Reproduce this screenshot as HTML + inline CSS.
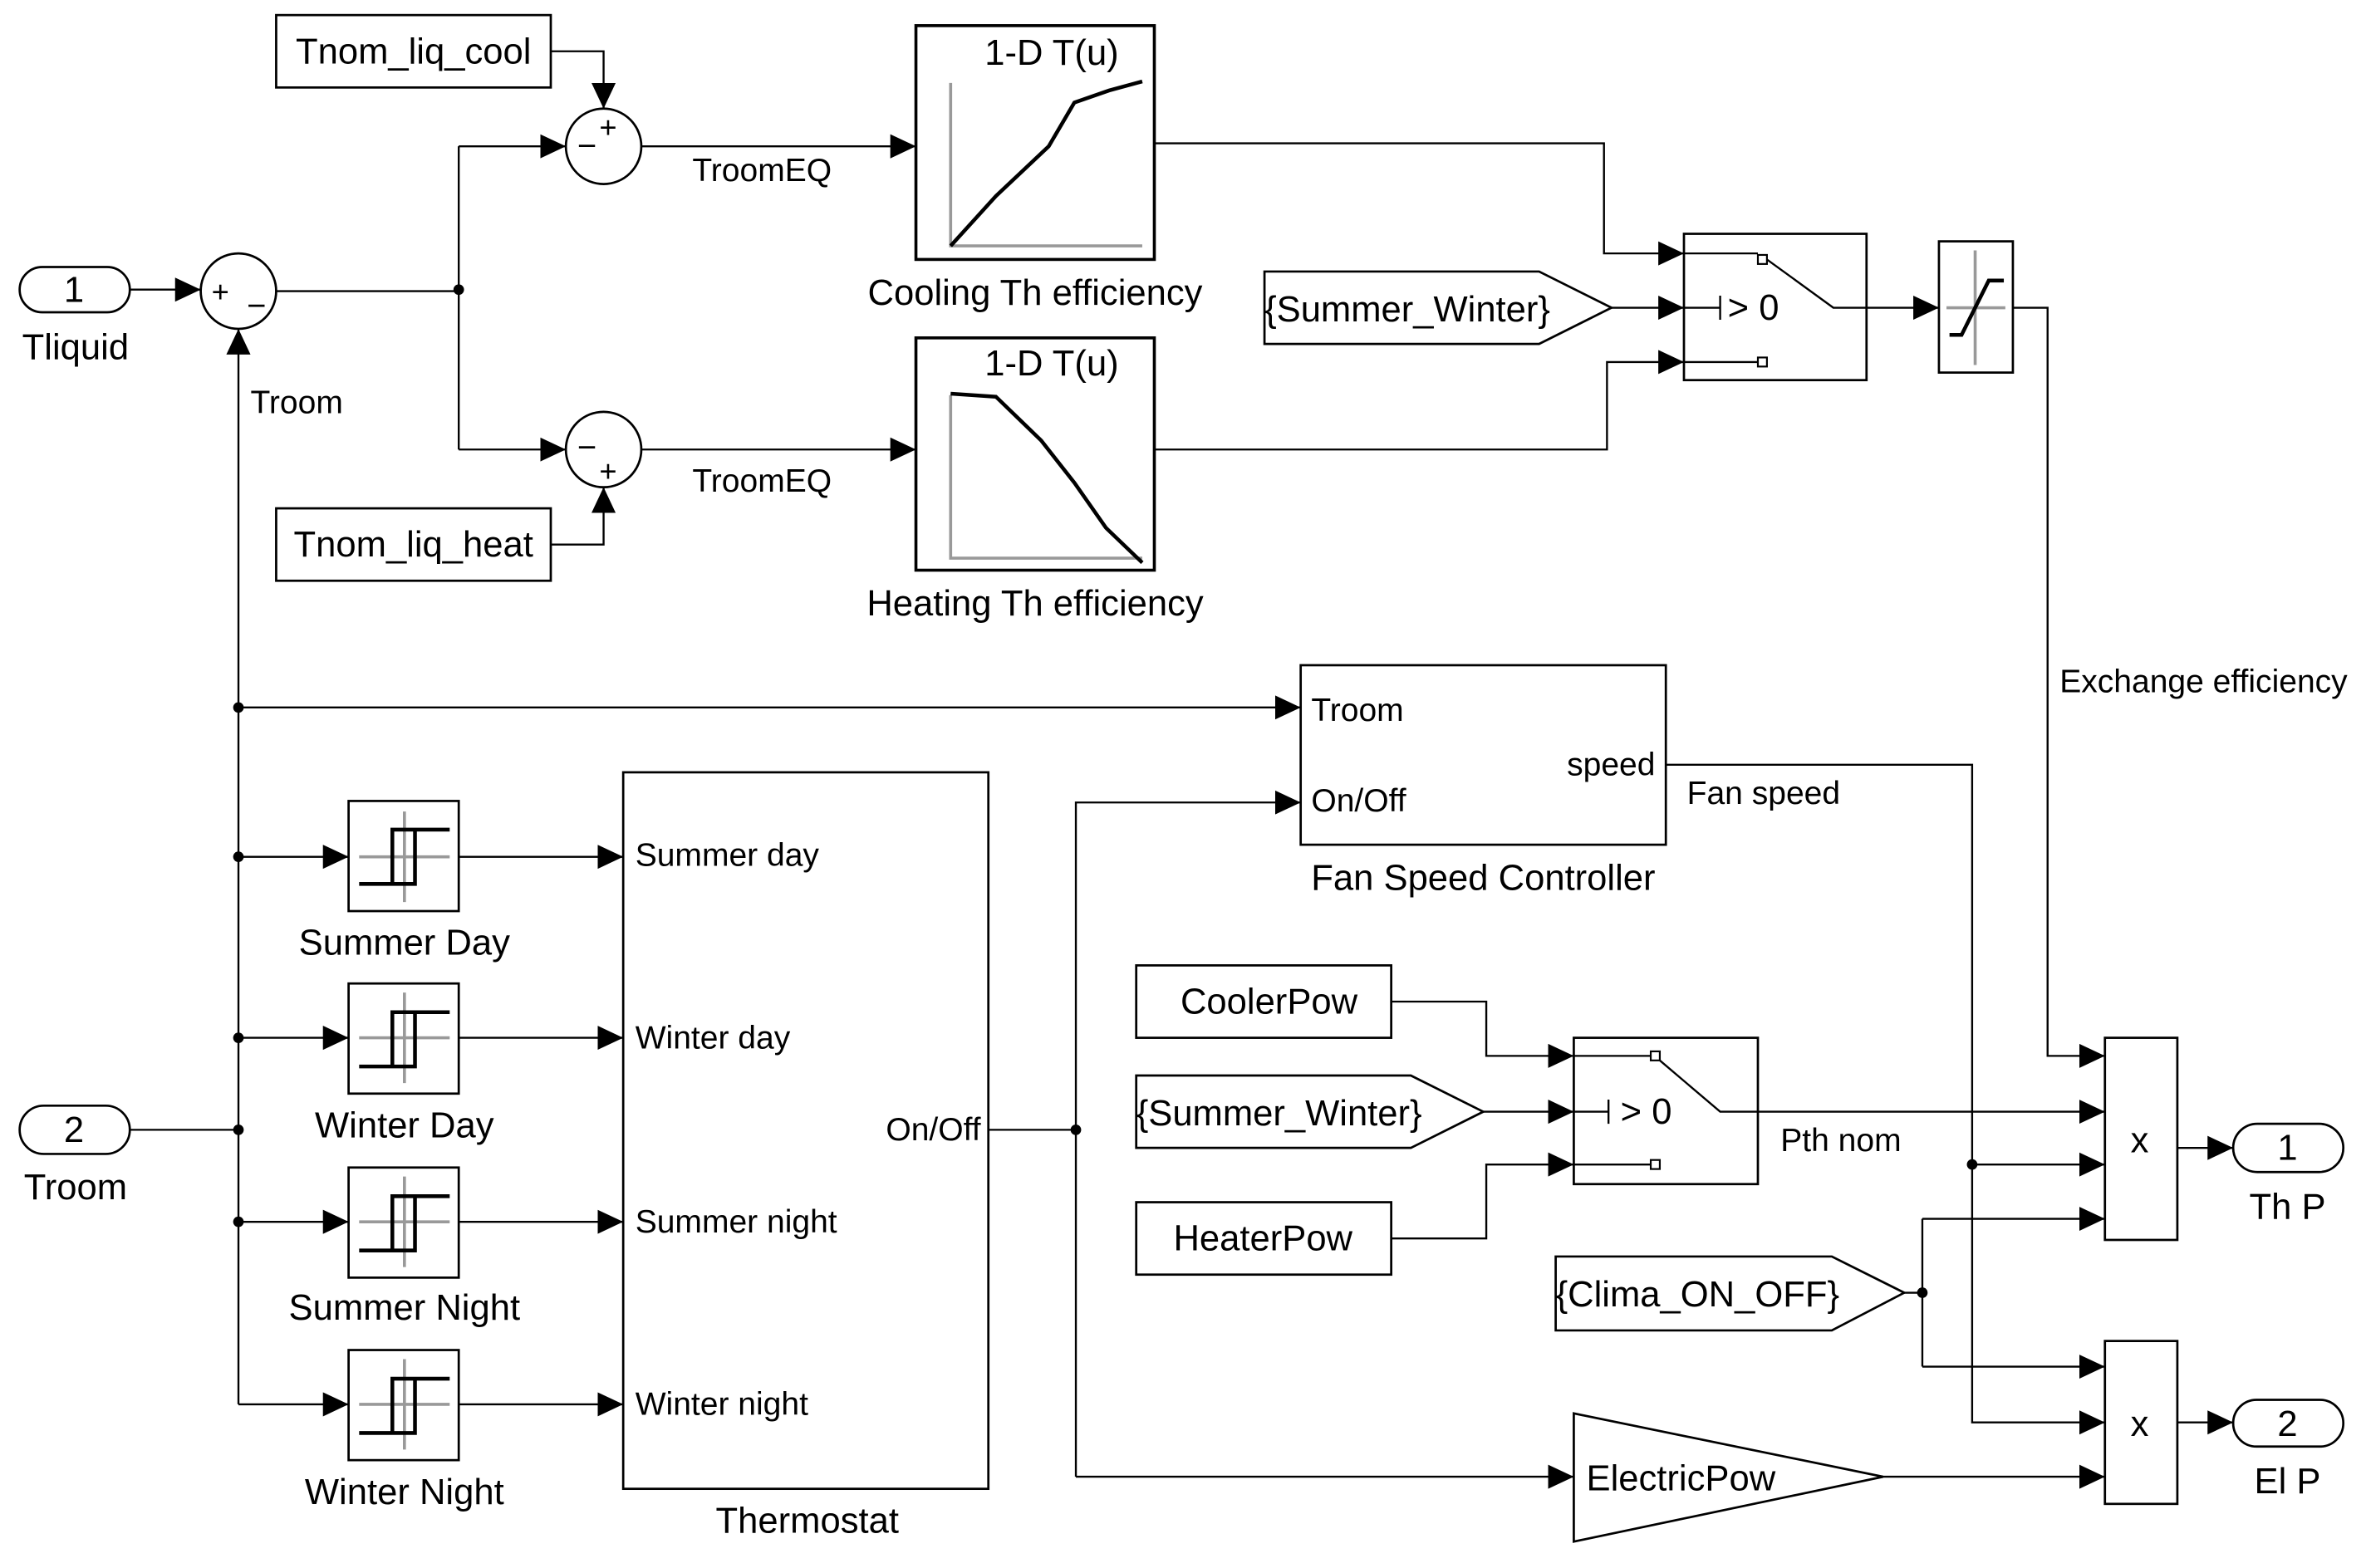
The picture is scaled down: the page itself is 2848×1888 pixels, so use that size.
<!DOCTYPE html>
<html><head><meta charset="utf-8"><style>
html,body{margin:0;padding:0;background:#fff}
svg{display:block}
text{font-family:"Liberation Sans",Arial,sans-serif;font-size:24px;fill:#000}
text.s{font-size:21.5px}
text.p{font-size:20px}
text.m{font-size:22px}
</style></head><body>
<svg width="2848" height="1888" viewBox="0 0 1568 1039.5" xmlns="http://www.w3.org/2000/svg">
<defs>
<marker id="a" markerWidth="18" markerHeight="18" refX="17" refY="8" orient="auto" markerUnits="userSpaceOnUse">
<path d="M0,0 L17,8 L0,16 Z" fill="#000"/></marker>
</defs>
<g fill="none" stroke="#000" stroke-width="1.5">
<rect x="183" y="10" width="182" height="48"/>
<rect x="183" y="337" width="182" height="48"/>
<circle cx="400" cy="97" r="25"/>
<circle cx="400" cy="298" r="25"/>
<circle cx="158" cy="193" r="25"/>
<rect x="607" y="17" width="158" height="155" stroke-width="2"/>
<rect x="607" y="224" width="158" height="154" stroke-width="2"/>
<rect x="13" y="177" width="73" height="30" rx="15"/>
<rect x="13" y="733" width="73" height="32" rx="16"/>
<rect x="1116" y="155" width="121" height="97"/>
<rect x="1285" y="160" width="49" height="87"/>
<path d="M838,180 L1020,180 L1068,204 L1020,228 L838,228 Z"/>
<path d="M753,713 L935,713 L983,737 L935,761 L753,761 Z"/>
<path d="M1031,833 L1214,833 L1262,857 L1214,882 L1031,882 Z"/>
<rect x="231" y="531" width="73" height="73"/>
<rect x="231" y="652" width="73" height="73"/>
<rect x="231" y="774" width="73" height="73"/>
<rect x="231" y="895" width="73" height="73"/>
<rect x="413" y="512" width="242" height="475"/>
<rect x="862" y="441" width="242" height="119"/>
<rect x="753" y="640" width="169" height="48"/>
<rect x="753" y="797" width="169" height="48"/>
<rect x="1043" y="688" width="122" height="97"/>
<rect x="1395" y="688" width="48" height="134"/>
<rect x="1395" y="889" width="48" height="108"/>
<rect x="1480" y="745" width="73" height="32" rx="16"/>
<rect x="1480" y="928" width="73" height="31" rx="15.5"/>
<path d="M1043,937 L1248,979 L1043,1022 Z"/>
</g>
<g fill="none" stroke="#999" stroke-width="2">
<path d="M630,55 V163 H757"/>
<path d="M630,262 V370 H757"/>
<path d="M1290,204 H1329 M1309,166 V242"/>
<path d="M238,568 H298 M268,538 V598"/>
<path d="M238,688 H298 M268,658 V718"/>
<path d="M238,810 H298 M268,780 V840"/>
<path d="M238,931 H298 M268,901 V961"/>
</g>
<g fill="none" stroke="#000" stroke-width="2.5">
<path d="M630,163 L660,130 L695,97 L712,68 L735,60 L757,54"/>
<path d="M630,261 L660,263 L690,292 L712,320 L733,350 L757,373"/>
<path d="M1292,222 L1300,222 L1318,186 L1328,186"/>
<path d="M238,586 H275 V550 H298 M260,586 V550 H275"/>
<path d="M238,707 H275 V671 H298 M260,707 V671 H275"/>
<path d="M238,829 H275 V793 H298 M260,829 V793 H275"/>
<path d="M238,950 H275 V914 H298 M260,950 V914 H275"/>
</g>
<g fill="#fff" stroke="#000" stroke-width="1.2">
<rect x="1165" y="169" width="6" height="6"/><rect x="1165" y="237" width="6" height="6"/>
<rect x="1094" y="697" width="6" height="6"/><rect x="1094" y="769" width="6" height="6"/>
</g>
<g fill="none" stroke="#000" stroke-width="1.3">
<path d="M1116,168 H1165 M1116,240 H1165 M1171,172 L1215,204 H1237 M1116,204 H1140 M1140,196 V212"/>
<path d="M1043,700 H1094 M1043,772 H1094 M1100,703 L1140,737 H1165 M1043,737 H1066 M1066,729 V745"/>
</g>
<g fill="none" stroke="#000" stroke-width="1.3">
<path d="M365,34 H400 V72" marker-end="url(#a)"/>
<path d="M365,361 H400 V323" marker-end="url(#a)"/>
<path d="M86,192 H133" marker-end="url(#a)"/>
<path d="M183,193 H304"/>
<path d="M304,97 V298"/>
<path d="M304,97 H375" marker-end="url(#a)"/>
<path d="M304,298 H375" marker-end="url(#a)"/>
<path d="M425,97 H607" marker-end="url(#a)"/>
<path d="M425,298 H607" marker-end="url(#a)"/>
<path d="M765,95 H1063 V168 H1116" marker-end="url(#a)"/>
<path d="M765,298 H1065 V240 H1116" marker-end="url(#a)"/>
<path d="M1068,204 H1116" marker-end="url(#a)"/>
<path d="M1237,204 H1285" marker-end="url(#a)"/>
<path d="M1334,204 H1357 V700 H1395" marker-end="url(#a)"/>
<path d="M86,749 H158"/>
<path d="M158,931 V218" marker-end="url(#a)"/>
<path d="M158,469 H862" marker-end="url(#a)"/>
<path d="M158,568 H231" marker-end="url(#a)"/>
<path d="M158,688 H231" marker-end="url(#a)"/>
<path d="M158,810 H231" marker-end="url(#a)"/>
<path d="M158,931 H231" marker-end="url(#a)"/>
<path d="M304,568 H413" marker-end="url(#a)"/>
<path d="M304,688 H413" marker-end="url(#a)"/>
<path d="M304,810 H413" marker-end="url(#a)"/>
<path d="M304,931 H413" marker-end="url(#a)"/>
<path d="M655,749 H713"/>
<path d="M713,979 V532 H862" marker-end="url(#a)"/>
<path d="M713,979 H1043" marker-end="url(#a)"/>
<path d="M1104,507 H1307 V943 H1395" marker-end="url(#a)"/>
<path d="M1307,772 H1395" marker-end="url(#a)"/>
<path d="M922,664 H985 V700 H1043" marker-end="url(#a)"/>
<path d="M983,737 H1043" marker-end="url(#a)"/>
<path d="M922,821 H985 V772 H1043" marker-end="url(#a)"/>
<path d="M1165,737 H1395" marker-end="url(#a)"/>
<path d="M1443,761 H1480" marker-end="url(#a)"/>
<path d="M1443,943 H1480" marker-end="url(#a)"/>
<path d="M1262,857 H1274"/>
<path d="M1274,808 V906"/>
<path d="M1274,808 H1395" marker-end="url(#a)"/>
<path d="M1274,906 H1395" marker-end="url(#a)"/>
<path d="M1248,979 H1395" marker-end="url(#a)"/>
</g>
<g fill="#000">
<circle cx="304" cy="192" r="3.5"/><circle cx="158" cy="469" r="3.5"/><circle cx="158" cy="568" r="3.5"/>
<circle cx="158" cy="688" r="3.5"/><circle cx="158" cy="749" r="3.5"/><circle cx="158" cy="810" r="3.5"/>
<circle cx="713" cy="749" r="3.5"/><circle cx="1307" cy="772" r="3.5"/><circle cx="1274" cy="857" r="3.5"/>
</g>
<g text-anchor="middle">
<text x="274" y="42">Tnom_liq_cool</text>
<text x="274" y="369">Tnom_liq_heat</text>
<text x="697" y="43">1-D T(u)</text>
<text x="697" y="249">1-D T(u)</text>
<text x="686" y="202">Cooling Th efficiency</text>
<text x="686" y="408">Heating Th efficiency</text>
<text class="s" x="505" y="120">TroomEQ</text>
<text class="s" x="505" y="326">TroomEQ</text>
<text x="49" y="200">1</text>
<text x="50" y="238">Tliquid</text>
<text x="49" y="757">2</text>
<text x="50" y="795">Troom</text>
<text x="268" y="633">Summer Day</text>
<text x="268" y="754">Winter Day</text>
<text x="268" y="875">Summer Night</text>
<text x="268" y="997">Winter Night</text>
<text x="535" y="1016">Thermostat</text>
<text x="983" y="590">Fan Speed Controller</text>
<text x="841" y="672">CoolerPow</text>
<text x="837" y="829">HeaterPow</text>
<text x="1418" y="764">x</text>
<text x="1418" y="952">x</text>
<text x="1516" y="769">1</text>
<text x="1516" y="808">Th P</text>
<text x="1516" y="952">2</text>
<text x="1516" y="990">El P</text>
<text x="1114" y="988">ElectricPow</text>
<text x="1162" y="212">&gt; 0</text>
<text x="1091" y="745">&gt; 0</text>
<text class="p" x="403" y="91">+</text>
<text class="m" x="389" y="104">−</text>
<text class="m" x="389" y="304">−</text>
<text class="p" x="403" y="319">+</text>
<text class="p" x="146" y="200">+</text>
<text class="m" x="170" y="210">−</text>
</g>
<text x="838" y="213">{Summer_Winter}</text>
<text x="753" y="746">{Summer_Winter}</text>
<text x="1031" y="866">{Clima_ON_OFF}</text>
<text class="s" x="166" y="274">Troom</text>
<text class="s" x="1365" y="459">Exchange efficiency</text>
<text class="s" x="1118" y="533">Fan speed</text>
<text class="s" x="1180" y="763">Pth nom</text>
<text class="s" x="869" y="478">Troom</text>
<text class="s" x="869" y="538">On/Off</text>
<text class="s" x="1097" y="514" text-anchor="end">speed</text>
<text class="s" x="421" y="574">Summer day</text>
<text class="s" x="421" y="695">Winter day</text>
<text class="s" x="421" y="817">Summer night</text>
<text class="s" x="421" y="938">Winter night</text>
<text class="s" x="650" y="756" text-anchor="end">On/Off</text>
</svg>
</body></html>
